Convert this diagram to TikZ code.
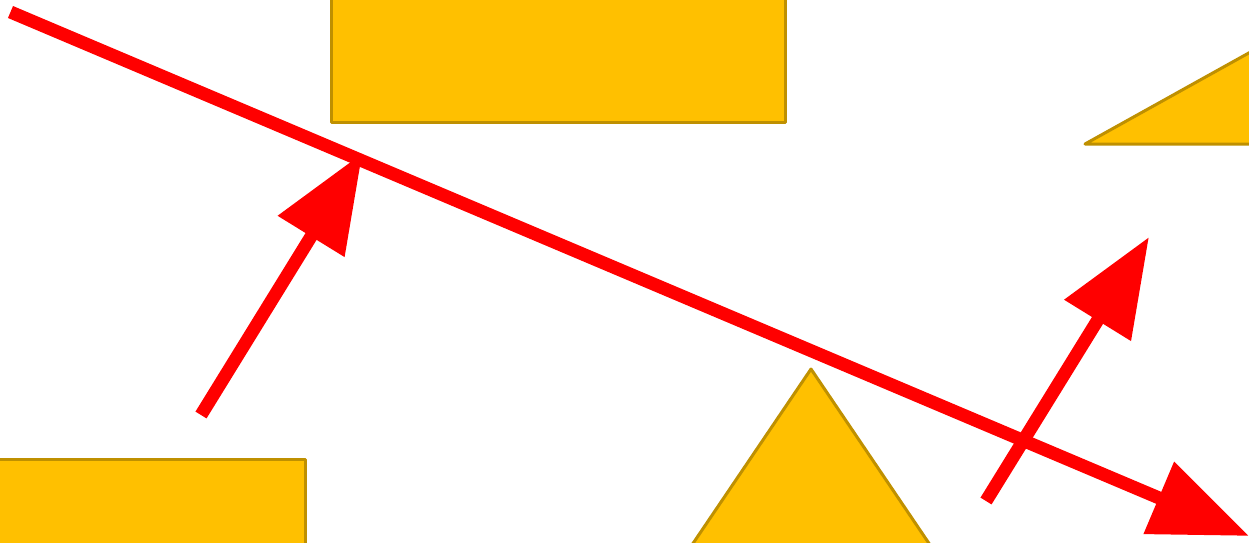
\documentclass[tikz,border=0pt]{standalone}
\usetikzlibrary{arrows.meta}
\definecolor{shapefill}{HTML}{FFC000}
\definecolor{shapeline}{HTML}{BF9000}
\definecolor{arrowred}{HTML}{FF0000}
\tikzset{
  shapestyle/.style={fill=shapefill, draw=shapeline, line width=3pt, line join=round},
  redarrow/.style={draw=arrowred, line width=13pt, -{Triangle[length=98pt 0 0, width=75pt 0 0]}},
}
\begin{document}
\begin{tikzpicture}[x=1pt,y=-1pt]
\useasboundingbox (0,0) rectangle (1249,542);
\clip (0,0) rectangle (1249,542);
% shapes
\draw[shapestyle] (331.5,-20) rectangle (785.5,122);
\draw[shapestyle] (-20,459) rectangle (305,580);
\draw[shapestyle] (1085,144) -- (1300,24.5) -- (1300,144) -- cycle;
\draw[shapestyle] (811,369) -- (947,570) -- (675,570) -- cycle;
% arrow coordinates
\coordinate (a0) at (10.5,12);
\coordinate (a1) at (1249,536);
\coordinate (b0) at (201,415);
\coordinate (b1) at (362.5,153);
\coordinate (c0) at (986,501);
\coordinate (c1) at (1149,237);
\draw[redarrow] (a0) -- (a1);
\draw[redarrow] (b0) -- (b1);
\draw[redarrow] (c0) -- (c1);
\end{tikzpicture}
\end{document}
